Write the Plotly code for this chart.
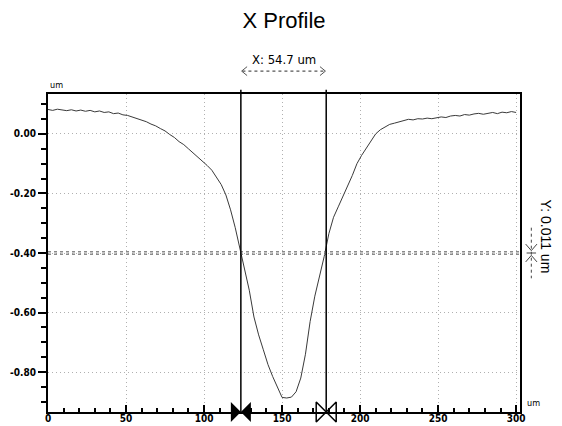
import plotly.graph_objects as go

# ---------------- data ----------------
x_pos = [0, 3, 6, 9, 12, 15, 18, 21, 24, 27, 30, 33, 36, 39, 42, 45, 48, 51, 54, 57,
         60, 63, 66, 69, 72, 75, 78, 81, 84, 87, 90, 93, 96, 99, 102, 105, 108, 111, 114, 117,
         120, 123, 126, 129, 132, 135, 138, 141, 144, 147, 150, 153, 156, 159, 162, 165, 168, 171, 174, 177,
         180, 183, 186, 189, 192, 195, 198, 201, 204, 207, 210, 213, 216, 219, 222, 225, 228, 231, 234, 237,
         240, 243, 246, 249, 252, 255, 258, 261, 264, 267, 270, 273, 276, 279, 282, 285, 288, 291, 294, 297, 300]
height = [0.082, 0.079, 0.083, 0.080, 0.078, 0.081, 0.077, 0.080, 0.076, 0.079,
          0.074, 0.077, 0.072, 0.074, 0.068, 0.070, 0.064, 0.062, 0.057, 0.052,
          0.046, 0.041, 0.033, 0.027, 0.018, 0.010, -0.002, -0.012, -0.026, -0.036,
          -0.050, -0.064, -0.075, -0.092, -0.106, -0.122, -0.148, -0.170, -0.205, -0.255,
          -0.315, -0.385, -0.455, -0.525, -0.615, -0.675, -0.725, -0.775, -0.815, -0.850,
          -0.885, -0.887, -0.884, -0.866, -0.820, -0.740, -0.630, -0.545, -0.480, -0.412,
          -0.335, -0.280, -0.245, -0.212, -0.175, -0.140, -0.100, -0.072, -0.048, -0.024,
          0.000, 0.014, 0.024, 0.032, 0.036, 0.040, 0.046, 0.049, 0.047, 0.051,
          0.050, 0.053, 0.051, 0.055, 0.057, 0.055, 0.060, 0.062, 0.060, 0.065,
          0.063, 0.067, 0.069, 0.066, 0.070, 0.072, 0.068, 0.073, 0.071, 0.075, 0.072]

cursor_x = [123.6, 178.3]
cursor_y = -0.40
x_label = "X: 54.7 um"
y_label = "Y: 0.011 um"
title_text = "X Profile"
unit_text = "um"

x_ticks = [0, 50, 100, 150, 200, 250, 300]
y_ticks = [0.0, -0.2, -0.4, -0.6, -0.8]
y_tick_text = ["0.00", "-0.20", "-0.40", "-0.60", "-0.80"]

x_range = [0, 302.5]
y_range = [-0.934, 0.134]

NARROW = "DejaVu Sans Condensed, Liberation Sans Narrow, Arial Narrow, Liberation Sans, Arial, sans-serif"
FONT = "Liberation Sans, Arial, sans-serif"

fig = go.Figure()

# profile curve
fig.add_trace(go.Scatter(x=x_pos, y=height, mode="lines",
                         line=dict(color="#3a3a3a", width=1), showlegend=False, hoverinfo="skip"))

# top cursor triangles
tri_y = y_range[1] + 0.037
fig.add_trace(go.Scatter(x=[cursor_x[0]], y=[tri_y], mode="markers",
                         marker=dict(symbol="triangle-down", size=14, color="black"),
                         cliponaxis=False, showlegend=False, hoverinfo="skip"))
fig.add_trace(go.Scatter(x=[cursor_x[1]], y=[tri_y], mode="markers",
                         marker=dict(symbol="triangle-down-open", size=14, color="black",
                                     line=dict(color="black", width=1.5)),
                         cliponaxis=False, showlegend=False, hoverinfo="skip"))
# bottom bowties
fig.add_trace(go.Scatter(x=[cursor_x[0]], y=[y_range[0]], mode="markers",
                         marker=dict(symbol="bowtie", size=20, color="black"),
                         cliponaxis=False, showlegend=False, hoverinfo="skip"))
fig.add_trace(go.Scatter(x=[cursor_x[1]], y=[y_range[0]], mode="markers",
                         marker=dict(symbol="bowtie-open", size=20, color="black",
                                     line=dict(color="black", width=1.5)),
                         cliponaxis=False, showlegend=False, hoverinfo="skip"))

shapes = []
# horizontal Y cursor (double dotted grey line)
for dy in (-0.004, 0.004):
    shapes.append(dict(type="line", xref="paper", yref="y", x0=0, x1=1,
                       y0=cursor_y + dy, y1=cursor_y + dy,
                       line=dict(color="#8a8a8a", width=1.5, dash="dot"), layer="above"))
# vertical cursor lines
for cx in cursor_x:
    shapes.append(dict(type="line", xref="x", yref="paper", x0=cx, x1=cx, y0=0, y1=1.013,
                       line=dict(color="black", width=1.5), layer="above"))
# dotted double arrow between cursors (top)
ya = 1.072
shapes.append(dict(type="line", xref="x", yref="paper", x0=cursor_x[0] + 1, x1=cursor_x[1] - 1,
                   y0=ya, y1=ya, line=dict(color="#555555", width=1.2, dash="dot")))
shapes.append(dict(type="path", xref="x", yref="paper",
                   path=f"M {cursor_x[0]+4},{ya+0.014} L {cursor_x[0]+0.5},{ya} L {cursor_x[0]+4},{ya-0.014}",
                   line=dict(color="#555555", width=1)))
shapes.append(dict(type="path", xref="x", yref="paper",
                   path=f"M {cursor_x[1]-4},{ya+0.014} L {cursor_x[1]-0.5},{ya} L {cursor_x[1]-4},{ya-0.014}",
                   line=dict(color="#555555", width=1)))
# Y span marker at right
xm = 1.024
shapes.append(dict(type="line", xref="paper", yref="y", x0=xm, x1=xm,
                   y0=cursor_y + 0.085, y1=cursor_y - 0.085,
                   line=dict(color="#444444", width=1, dash="dot")))
shapes.append(dict(type="path", xref="paper", yref="y",
                   path=f"M {xm-0.012},{cursor_y+0.03} L {xm},{cursor_y+0.008} L {xm+0.012},{cursor_y+0.03}",
                   line=dict(color="#444444", width=1)))
shapes.append(dict(type="path", xref="paper", yref="y",
                   path=f"M {xm-0.012},{cursor_y-0.03} L {xm},{cursor_y-0.008} L {xm+0.012},{cursor_y-0.03}",
                   line=dict(color="#444444", width=1)))
shapes.append(dict(type="line", xref="paper", yref="y", x0=xm - 0.01, x1=xm + 0.01,
                   y0=cursor_y, y1=cursor_y, line=dict(color="#444444", width=1)))

annotations = [
    dict(text=x_label, xref="x", yref="paper", x=(cursor_x[0] + cursor_x[1]) / 2, y=1.107,
         xanchor="center", yanchor="middle",
         showarrow=False, font=dict(family=NARROW, size=13, color="black")),
    dict(text=y_label, xref="paper", yref="paper", x=1.054, y=0.55, textangle=90,
         xanchor="center", yanchor="middle",
         showarrow=False, font=dict(family=FONT, size=14, color="black")),
    dict(text=unit_text, xref="paper", yref="paper", x=0.0, y=1.028, xanchor="left", yanchor="middle",
         showarrow=False, font=dict(family=NARROW, size=9, color="black")),
    dict(text=unit_text, xref="paper", yref="paper", x=1.011, y=0.028, xanchor="left", yanchor="middle",
         showarrow=False, font=dict(family=NARROW, size=9, color="black")),
]

fig.update_layout(
    width=562, height=426,
    margin=dict(l=40, r=50, t=86, b=22, autoexpand=False),
    paper_bgcolor="white", plot_bgcolor="white",
    title=dict(text=title_text, x=0.5, xref="paper", y=0.972, yref="container", yanchor="middle",
               font=dict(family=FONT, size=22, color="black")),
    shapes=shapes, annotations=annotations, showlegend=False,
)

fig.update_xaxes(range=x_range, tickvals=x_ticks, ticks="inside", ticklen=7, tickwidth=1.5,
                 tickcolor="black", showline=True, linecolor="black", linewidth=2, mirror=True,
                 showgrid=True, gridcolor="#b0b0b0", griddash="1px,3px", gridwidth=1, zeroline=False,
                 automargin=False, ticklabelstandoff=-4,
                 tickfont=dict(family=NARROW, size=10, color="black", weight="bold"),
                 minor=dict(dtick=10, tick0=0, ticks="inside", ticklen=4, tickcolor="black", showgrid=False))
fig.update_yaxes(range=y_range, tickvals=y_ticks, ticktext=y_tick_text, ticks="outside", ticklen=8,
                 tickwidth=1.5, tickcolor="black", showline=True, linecolor="black", linewidth=2,
                 mirror=True, showgrid=True, gridcolor="#b0b0b0", griddash="1px,3px", gridwidth=1,
                 zeroline=False, automargin=False, ticklabelstandoff=0,
                 tickfont=dict(family=NARROW, size=10, color="black", weight="bold"),
                 minor=dict(dtick=0.05, tick0=0, ticks="outside", ticklen=5, tickcolor="black", showgrid=False))

fig.write_html("out.html")
